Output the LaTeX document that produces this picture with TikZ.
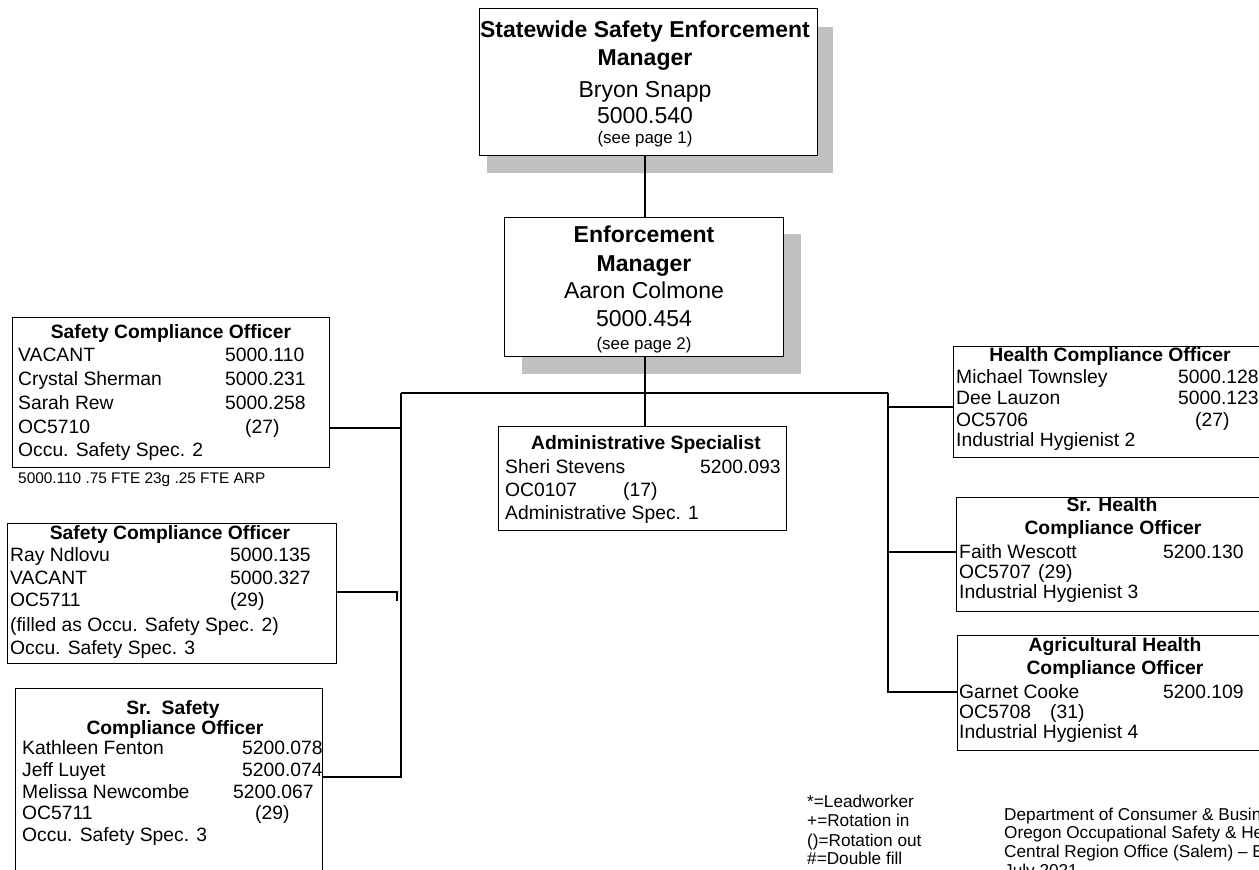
\documentclass[tikz,border=0pt]{standalone}
\usepackage{fontspec}
\setmainfont{Liberation Sans}
\definecolor{shadowgray}{RGB}{192,192,192}

% one text line, left aligned at (x,y) / centred at (x,y)
\newcommand\orgrow[4]{\node[rowtext,anchor=west] (#1) at (#2,#3) {#4};}
\newcommand\orgtitle[4]{\node[rowtext,font=\fontsize{19.3}{23}\selectfont\bfseries] (#1) at (#2,#3) {#4};}
% two columns: name, then value starting #1 pt to the right
\newcommand\pair[2]{\makebox[#1pt][l]{#2}}

\begin{document}
\begin{tikzpicture}[x=1pt,y=-1pt,
  box/.style={draw=black,line width=1.1pt,fill=white,rectangle,inner sep=0pt,anchor=north west},
  wire/.style={draw=black,line width=1.1pt},
  rowtext/.style={inner sep=0pt,font=\fontsize{19.3}{23}\selectfont,text height=17.2pt,text depth=3.3pt},
  bigtext/.style={inner sep=0pt,font=\fontsize{23}{27}\selectfont,text height=19.9pt,text depth=3.4pt},
  bigbold/.style={bigtext,font=\fontsize{23}{27}\selectfont\bfseries},
  seepage/.style={inner sep=0pt,font=\fontsize{16.9}{20}\selectfont,text height=14.8pt,text depth=2.6pt},
  note/.style={inner sep=0pt,anchor=west,font=\fontsize{15.4}{18}\selectfont,text height=13.3pt,text depth=2.2pt},
  legend/.style={inner sep=0pt,anchor=west,font=\fontsize{17.2}{20}\selectfont,text height=15pt,text depth=2.7pt}
]
\useasboundingbox (0,0) rectangle (1259,870);
\clip (0,0) rectangle (1259,870);

% drop shadows of the two manager boxes
\fill[shadowgray] (487,27) rectangle (833,173);
\fill[shadowgray] (522,234) rectangle (801,374);

% boxes
\node[box,minimum width=338pt,minimum height=147pt] (top) at (479,8) {};
\node[box,minimum width=279pt,minimum height=139pt] (mgr) at (504,217) {};
\node[box,minimum width=288pt,minimum height=104pt] (admin) at (498,426) {};
\node[box,minimum width=317pt,minimum height=150pt] (b1) at (12,317) {};
\node[box,minimum width=329pt,minimum height=140pt] (b2) at (7,523) {};
\node[box,minimum width=307pt,minimum height=200pt] (b3) at (15,688) {};
\node[box,minimum width=315pt,minimum height=111pt] (r1) at (953,346) {};
\node[box,minimum width=312pt,minimum height=114pt] (r2) at (956,497) {};
\node[box,minimum width=311pt,minimum height=115pt] (r3) at (957,635) {};

% connectors
\coordinate (hub) at (645,393);
\coordinate (lbus) at (401,393);
\coordinate (rbus) at (888,393);
\coordinate (j1) at (401,428);
\coordinate (j2) at (397,592);
\coordinate (j3) at (401,777);
\coordinate (k1) at (888,407);
\coordinate (k2) at (888,552);
\coordinate (k3) at (888,692);
\draw[wire] (top.south -| hub) -- (mgr.north -| hub);
\draw[wire] (mgr.south -| hub) -- (admin.north -| hub);
\draw[wire] (lbus) -- (rbus);
\draw[wire] (lbus) -- (j3) -- (j3 -| b3.east);
\draw[wire] (j1 -| b1.east) -- (j1);
\draw[wire] (j2 -| b2.east) -- (j2) -- ++(0,9);
\draw[wire] (rbus) -- (k3) -- (k3 -| r3.west);
\draw[wire] (k1) -- (k1 -| r1.west);
\draw[wire] (k2) -- (k2 -| r2.west);

% Statewide manager
\node[bigbold] (t1) at (645,29) {Statewide Safety Enforcement};
\node[bigbold] (t2) at (645,57) {Manager};
\node[bigtext] (t3) at (645,89) {Bryon Snapp};
\node[bigtext] (t4) at (645,115) {5000.540};
\node[seepage] (t5) at (645,137) {(see page 1)};

% Enforcement manager
\node[bigbold] (m1) at (644,234) {Enforcement};
\node[bigbold] (m2) at (644,263) {Manager};
\node[bigtext] (m3) at (644,290) {Aaron Colmone};
\node[bigtext] (m4) at (644,318) {5000.454};
\node[seepage] (m5) at (644,343) {(see page 2)};

% Administrative specialist
\orgtitle{a0}{646}{443}{Administrative Specialist}
\orgrow{a1}{505}{467}{\pair{195}{Sheri Stevens}5200.093}
\orgrow{a2}{505}{490}{\pair{118}{OC0107}(17)}
\orgrow{a3}{505}{513}{Administrative Spec. 1}

% Safety compliance officers
\orgtitle{p0}{171}{332}{Safety Compliance Officer}
\orgrow{p1}{18}{355}{\pair{207}{VACANT}5000.110}
\orgrow{p2}{18}{379}{\pair{207}{Crystal Sherman}5000.231}
\orgrow{p3}{18}{403}{\pair{207}{Sarah Rew}5000.258}
\orgrow{p4}{18}{427}{\pair{227}{OC5710}(27)}
\orgrow{p5}{18}{450}{Occu. Safety Spec. 2}
\node[note] (pn) at (18,478) {5000.110 .75 FTE 23g .25 FTE ARP};

\orgtitle{q0}{170}{533}{Safety Compliance Officer}
\orgrow{q1}{10}{555}{\pair{220}{Ray Ndlovu}5000.135}
\orgrow{q2}{10}{578}{\pair{220}{VACANT}5000.327}
\orgrow{q3}{10}{600}{\pair{220}{OC5711}(29)}
\orgrow{q4}{10}{625}{(filled as Occu. Safety Spec. 2)}
\orgrow{q5}{10}{648}{Occu. Safety Spec. 3}

% Senior safety compliance officers
\orgtitle{s0}{173}{708}{Sr.\ \ Safety}
\orgtitle{s1}{175}{728}{Compliance Officer}
\orgrow{s2}{22}{748}{\pair{220}{Kathleen Fenton}5200.078}
\orgrow{s3}{22}{770}{\pair{220}{Jeff Luyet}5200.074}
\orgrow{s4}{22}{792}{\pair{211}{Melissa Newcombe}5200.067}
\orgrow{s5}{22}{813}{\pair{233}{OC5711}(29)}
\orgrow{s6}{22}{835}{Occu. Safety Spec. 3}

% Health compliance officers
\orgtitle{h0}{1110}{355}{Health Compliance Officer}
\orgrow{h1}{956}{377}{\pair{222}{Michael Townsley}5000.128}
\orgrow{h2}{956}{398}{\pair{222}{Dee Lauzon}5000.123}
\orgrow{h3}{956}{420}{\pair{239}{OC5706}(27)}
\orgrow{h4}{956}{440}{Industrial Hygienist 2}

\orgtitle{g0}{1112}{505}{Sr. Health}
\orgtitle{g1}{1113}{528}{Compliance Officer}
\orgrow{g2}{959}{552}{\pair{204}{Faith Wescott}5200.130}
\orgrow{g3}{959}{572}{\pair{79}{OC5707}(29)}
\orgrow{g4}{959}{592}{Industrial Hygienist 3}

\orgtitle{c0}{1115}{645}{Agricultural Health}
\orgtitle{c1}{1115}{668}{Compliance Officer}
\orgrow{c2}{959}{692}{\pair{204}{Garnet Cooke}5200.109}
\orgrow{c3}{959}{712}{\pair{91}{OC5708}(31)}
\orgrow{c4}{959}{732}{Industrial Hygienist 4}

% key to the symbols
\node[legend] (k1t) at (807,801) {*=Leadworker};
\node[legend] (k2t) at (807,820) {+=Rotation in};
\node[legend] (k3t) at (807,840) {()=Rotation out};
\node[legend] (k4t) at (807,858) {\#=Double fill};

% office caption
\node[legend] (d1) at (1004,814) {Department of Consumer \& Business Services};
\node[legend] (d2) at (1004,832) {Oregon Occupational Safety \& Health};
\node[legend] (d3) at (1004,851) {Central Region Office (Salem) -- Enforcement};
\node[legend] (d4) at (1004,870) {July 2021};
\end{tikzpicture}
\end{document}
